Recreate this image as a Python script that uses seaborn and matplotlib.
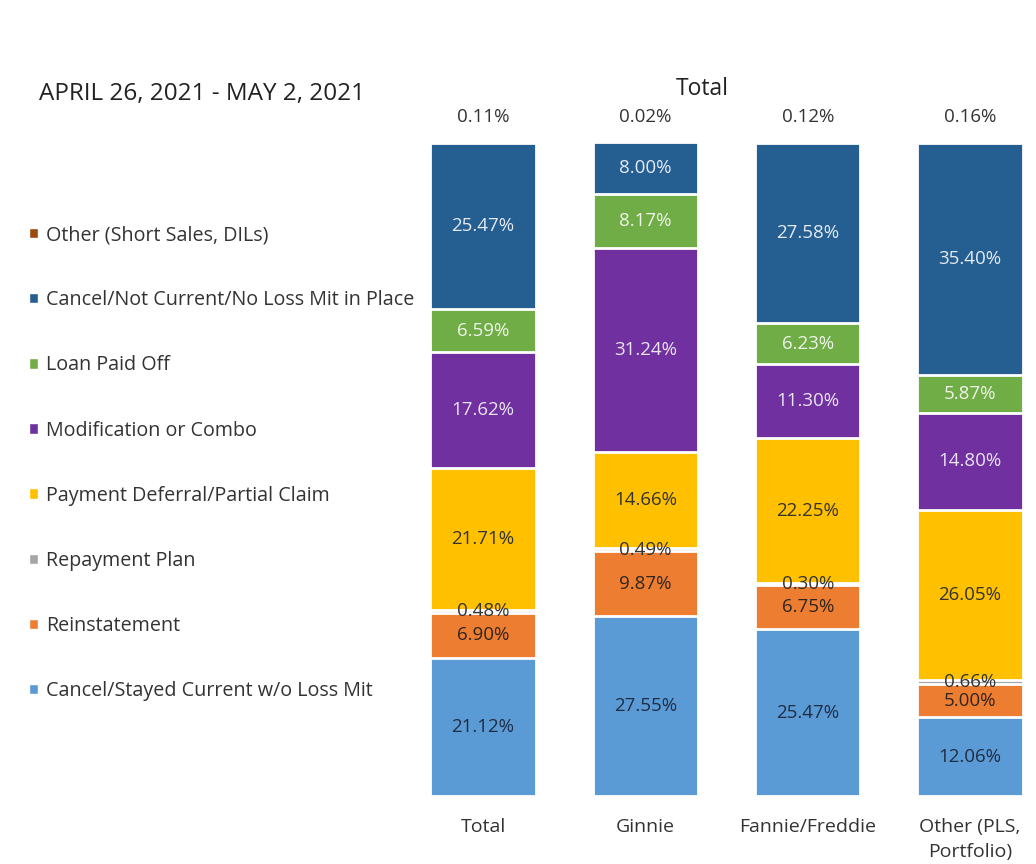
import matplotlib.pyplot as plt
import seaborn as sns
import pandas as pd
from matplotlib.patches import Patch

groups = ["Total", "Ginnie", "Fannie/Freddie", "Other (PLS,\nPortfolio)"]

# stacking order, bottom to top
outcomes = [
    "Cancel/Stayed Current w/o Loss Mit",
    "Reinstatement",
    "Repayment Plan",
    "Payment Deferral/Partial Claim",
    "Modification or Combo",
    "Loan Paid Off",
    "Cancel/Not Current/No Loss Mit in Place",
    "Other (Short Sales, DILs)",
]
stayed_current = [21.12, 27.55, 25.47, 12.06]
reinstatement = [6.90, 9.87, 6.75, 5.00]
repayment_plan = [0.48, 0.49, 0.30, 0.66]
payment_deferral = [21.71, 14.66, 22.25, 26.05]
modification = [17.62, 31.24, 11.30, 14.80]
loan_paid_off = [6.59, 8.17, 6.23, 5.87]
not_current = [25.47, 8.00, 27.58, 35.40]
other_short_sales = [0.11, 0.02, 0.12, 0.16]

colors = ["#5B9BD5", "#ED7D31", "#A5A5A5", "#FFC000",
          "#7030A0", "#70AD47", "#255E91", "#9E480E"]
text_colors = ["#1F2D44", "#2E2620", "#333333", "#333333",
               "#E8E4F0", "#EEF4E8", "#E4EAF2", "#333333"]

df = pd.DataFrame(
    [stayed_current, reinstatement, repayment_plan, payment_deferral,
     modification, loan_paid_off, not_current, other_short_sales],
    index=outcomes, columns=groups,
).T
cum = df.cumsum(axis=1)
cum.index.name = "group"
plot_df = cum.reset_index()

sns.set_style("white")
plt.rcParams["font.family"] = ["Open Sans", "DejaVu Sans"]

fig = plt.figure(figsize=(10.36, 8.64), dpi=100)
ax = fig.add_axes([0.388, 0.0787, 0.611, 0.757])

# tallest cumulative bar first, each shorter one covers the part below
for outcome, color in reversed(list(zip(outcomes, colors))):
    sns.barplot(data=plot_df, x="group", y=outcome, color=color,
                saturation=1, width=0.65, edgecolor="white",
                linewidth=2, ax=ax)

for j, outcome in enumerate(outcomes[:-1]):
    for i, g in enumerate(groups):
        val = df.loc[g, outcome]
        ax.text(i, cum.loc[g, outcome] - val / 2, f"{val:.2f}%",
                ha="center", va="center", fontsize=13.5,
                color=text_colors[j])

for i, g in enumerate(groups):
    ax.annotate(f"{df.loc[g, outcomes[-1]]:.2f}%", xy=(i, 100),
                xytext=(0, 18), textcoords="offset points",
                ha="center", va="center", fontsize=13.5, color="#333333",
                annotation_clip=False)

ax.set_ylim(0, 100)
ax.set_xlim(-0.5, 3.4)
ax.set_xlabel("")
ax.set_ylabel("")
ax.set_yticks([])
ax.tick_params(axis="x", length=0, pad=16, labelsize=14,
               labelcolor="#333333")
for t in ax.get_xticklabels():
    t.set_linespacing(1.45)
sns.despine(ax=ax, left=True, bottom=True)

fig.text(0.678, 0.897, "Total", ha="center", va="center",
         fontsize=16.5, color="#222222")
fig.text(0.038, 0.891, "APRIL 26, 2021 - MAY 2, 2021", ha="left",
         va="center", fontsize=17.5, color="#222222")

handles = [Patch(facecolor=c) for c in reversed(colors)]
fig.legend(handles, list(reversed(outcomes)), loc="center left",
           bbox_to_anchor=(0.028, 0.464), frameon=False, fontsize=14.2,
           handlelength=0.45, handleheight=0.45, handletextpad=0.4,
           labelspacing=2.29, borderpad=0, borderaxespad=0,
           labelcolor="#333333")

fig.savefig("out.png", dpi=100, facecolor="white")
